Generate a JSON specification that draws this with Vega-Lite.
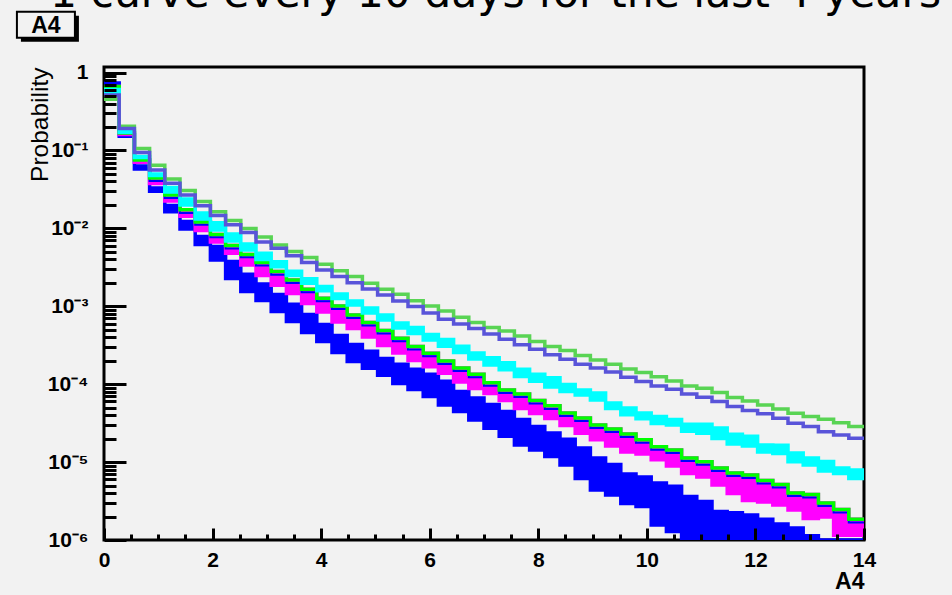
{
  "$schema": "https://vega.github.io/schema/vega-lite/v6.json",
  "width": 760,
  "height": 473,
  "autosize": {"type": "none"},
  "padding": {"left": 104, "top": 67, "right": 88, "bottom": 55},
  "background": "#f2f2f2",
  "config": {
    "view": {"stroke": "black", "strokeWidth": 3},
    "axis": {"grid": false, "ticks": true}
  },
  "resolve": {"axis": {"x": "independent", "y": "independent"}},
  "datasets": {
    "h": [
      {"x": 0, "lg": 0.455, "sb": 0.517, "cyHi": 0.609, "cyLo": 0.557, "g": 0.665, "bm": 0.665, "mgLo": 0.646, "blHi": 0.738, "blLo": 0.706},
      {"x": 0.28, "lg": 0.205, "sb": 0.191, "cyHi": 0.176, "cyLo": 0.171, "g": 0.168, "bm": 0.168, "mgLo": 0.161, "blHi": 0.159, "blLo": 0.152},
      {"x": 0.56, "lg": 0.106, "sb": 0.094, "cyHi": 0.084, "cyLo": 0.0815, "g": 0.0757, "bm": 0.0757, "mgLo": 0.0704, "blHi": 0.0634, "blLo": 0.058},
      {"x": 0.84, "lg": 0.0647, "sb": 0.0564, "cyHi": 0.0501, "cyLo": 0.0479, "g": 0.0445, "bm": 0.0407, "mgLo": 0.0378, "blHi": 0.0331, "blLo": 0.0299},
      {"x": 1.12, "lg": 0.0432, "sb": 0.038, "cyHi": 0.0336, "cyLo": 0.0294, "g": 0.0269, "bm": 0.0246, "mgLo": 0.0225, "blHi": 0.0197, "blLo": 0.0163},
      {"x": 1.4, "lg": 0.0306, "sb": 0.0269, "cyHi": 0.0239, "cyLo": 0.02, "g": 0.0173, "bm": 0.0158, "mgLo": 0.0143, "blHi": 0.0123, "blLo": 0.00985},
      {"x": 1.68, "lg": 0.0221, "sb": 0.0196, "cyHi": 0.0158, "cyLo": 0.0132, "g": 0.0121, "bm": 0.0111, "mgLo": 0.00943, "blHi": 0.0079, "blLo": 0.00623},
      {"x": 1.96, "lg": 0.0164, "sb": 0.0146, "cyHi": 0.0118, "cyLo": 0.00957, "g": 0.00838, "bm": 0.00767, "mgLo": 0.00671, "blHi": 0.00587, "blLo": 0.00394},
      {"x": 2.24, "lg": 0.0126, "sb": 0.0111, "cyHi": 0.0085, "cyLo": 0.00691, "g": 0.00605, "bm": 0.00554, "mgLo": 0.00478, "blHi": 0.00377, "blLo": 0.00228},
      {"x": 2.52, "lg": 0.00994, "sb": 0.00883, "cyHi": 0.00632, "cyLo": 0.0053, "g": 0.00464, "bm": 0.00425, "mgLo": 0.0034, "blHi": 0.00257, "blLo": 0.00155},
      {"x": 2.8, "lg": 0.00778, "sb": 0.00671, "cyHi": 0.00478, "cyLo": 0.004, "g": 0.00366, "bm": 0.00335, "mgLo": 0.00249, "blHi": 0.00194, "blLo": 0.00119},
      {"x": 3.08, "lg": 0.00614, "sb": 0.00557, "cyHi": 0.00372, "cyLo": 0.00321, "g": 0.00279, "bm": 0.00255, "mgLo": 0.00186, "blHi": 0.00142, "blLo": 0.00086},
      {"x": 3.36, "lg": 0.00504, "sb": 0.00444, "cyHi": 0.00281, "cyLo": 0.00249, "g": 0.00218, "bm": 0.00199, "mgLo": 0.00146, "blHi": 0.00106, "blLo": 0.00064},
      {"x": 3.64, "lg": 0.00422, "sb": 0.00364, "cyHi": 0.00225, "cyLo": 0.00197, "g": 0.00166, "bm": 0.00152, "mgLo": 0.00109, "blHi": 0.000787, "blLo": 0.000462},
      {"x": 3.92, "lg": 0.00347, "sb": 0.00293, "cyHi": 0.0018, "cyLo": 0.00158, "g": 0.00127, "bm": 0.00116, "mgLo": 0.000847, "blHi": 0.000586, "blLo": 0.000354},
      {"x": 4.2, "lg": 0.00285, "sb": 0.00241, "cyHi": 0.00144, "cyLo": 0.00126, "g": 0.00101, "bm": 0.000924, "mgLo": 0.000631, "blHi": 0.000423, "blLo": 0.000256},
      {"x": 4.48, "lg": 0.00241, "sb": 0.00201, "cyHi": 0.00117, "cyLo": 0.00104, "g": 0.000775, "bm": 0.000709, "mgLo": 0.00052, "blHi": 0.000324, "blLo": 0.000196},
      {"x": 4.76, "lg": 0.00198, "sb": 0.00167, "cyHi": 0.000954, "cyLo": 0.000823, "g": 0.000618, "bm": 0.000565, "mgLo": 0.000405, "blHi": 0.000264, "blLo": 0.00016},
      {"x": 5.04, "lg": 0.00166, "sb": 0.0014, "cyHi": 0.000775, "cyLo": 0.000669, "g": 0.000488, "bm": 0.000447, "mgLo": 0.000315, "blHi": 0.000214, "blLo": 0.00013},
      {"x": 5.32, "lg": 0.00143, "sb": 0.00117, "cyHi": 0.000612, "cyLo": 0.000528, "g": 0.000389, "bm": 0.000356, "mgLo": 0.000252, "blHi": 0.00018, "blLo": 0.000102},
      {"x": 5.6, "lg": 0.00118, "sb": 0.000991, "cyHi": 0.000536, "cyLo": 0.000449, "g": 0.000304, "bm": 0.000278, "mgLo": 0.000202, "blHi": 0.000155, "blLo": 0.0000858},
      {"x": 5.88, "lg": 0.00101, "sb": 0.000823, "cyHi": 0.000436, "cyLo": 0.00037, "g": 0.000249, "bm": 0.000228, "mgLo": 0.000167, "blHi": 0.000134, "blLo": 0.0000697},
      {"x": 6.16, "lg": 0.000873, "sb": 0.000683, "cyHi": 0.000376, "cyLo": 0.000306, "g": 0.000199, "bm": 0.000182, "mgLo": 0.000138, "blHi": 0.000109, "blLo": 0.0000542},
      {"x": 6.44, "lg": 0.000725, "sb": 0.000594, "cyHi": 0.000306, "cyLo": 0.000256, "g": 0.000162, "bm": 0.000148, "mgLo": 0.000107, "blHi": 0.0000808, "blLo": 0.0000447},
      {"x": 6.72, "lg": 0.000618, "sb": 0.000517, "cyHi": 0.000252, "cyLo": 0.000211, "g": 0.000134, "bm": 0.000123, "mgLo": 0.0000883, "blHi": 0.0000667, "blLo": 0.0000348},
      {"x": 7.0, "lg": 0.000533, "sb": 0.000442, "cyHi": 0.000218, "cyLo": 0.000177, "g": 0.000104, "bm": 0.0000952, "mgLo": 0.0000762, "blHi": 0.000055, "blLo": 0.0000271},
      {"x": 7.28, "lg": 0.000483, "sb": 0.000378, "cyHi": 0.000188, "cyLo": 0.000153, "g": 0.0000845, "bm": 0.0000773, "mgLo": 0.0000619, "blHi": 0.0000447, "blLo": 0.0000214},
      {"x": 7.56, "lg": 0.000417, "sb": 0.00032, "cyHi": 0.000155, "cyLo": 0.000126, "g": 0.0000751, "bm": 0.0000687, "mgLo": 0.0000489, "blHi": 0.0000353, "blLo": 0.0000166},
      {"x": 7.84, "lg": 0.000352, "sb": 0.000281, "cyHi": 0.000134, "cyLo": 0.000109, "g": 0.0000619, "bm": 0.0000566, "mgLo": 0.0000422, "blHi": 0.0000287, "blLo": 0.0000143},
      {"x": 8.12, "lg": 0.000304, "sb": 0.000238, "cyHi": 0.000121, "cyLo": 0.0000923, "g": 0.0000527, "bm": 0.0000482, "mgLo": 0.0000364, "blHi": 0.0000237, "blLo": 0.0000118},
      {"x": 8.4, "lg": 0.00027, "sb": 0.000209, "cyHi": 0.0000994, "cyLo": 0.0000808, "g": 0.0000428, "bm": 0.0000392, "mgLo": 0.0000296, "blHi": 0.0000196, "blLo": 0.00000921},
      {"x": 8.68, "lg": 0.000234, "sb": 0.000181, "cyHi": 0.0000845, "cyLo": 0.0000729, "g": 0.0000369, "bm": 0.0000338, "mgLo": 0.0000234, "blHi": 0.0000152, "blLo": 0.00000618},
      {"x": 8.96, "lg": 0.000205, "sb": 0.000161, "cyHi": 0.0000773, "cyLo": 0.0000629, "g": 0.00003, "bm": 0.0000275, "mgLo": 0.0000193, "blHi": 0.0000113, "blLo": 0.0000044},
      {"x": 9.24, "lg": 0.000181, "sb": 0.000143, "cyHi": 0.0000575, "cyLo": 0.0000489, "g": 0.0000267, "bm": 0.0000244, "mgLo": 0.0000161, "blHi": 0.00000934, "blLo": 0.00000379},
      {"x": 9.52, "lg": 0.000157, "sb": 0.000123, "cyHi": 0.0000496, "cyLo": 0.0000404, "g": 0.000023, "bm": 0.000021, "mgLo": 0.0000135, "blHi": 0.00000706, "blLo": 0.00000295},
      {"x": 9.8, "lg": 0.000141, "sb": 0.000108, "cyHi": 0.0000428, "cyLo": 0.0000359, "g": 0.0000193, "bm": 0.0000177, "mgLo": 0.0000127, "blHi": 0.00000646, "blLo": 0.0000027},
      {"x": 10.08, "lg": 0.000125, "sb": 0.0000951, "cyHi": 0.0000386, "cyLo": 0.0000314, "g": 0.0000157, "bm": 0.0000144, "mgLo": 0.0000107, "blHi": 0.00000541, "blLo": 0.00000156},
      {"x": 10.36, "lg": 0.00011, "sb": 0.0000863, "cyHi": 0.0000353, "cyLo": 0.00003, "g": 0.0000143, "bm": 0.0000131, "mgLo": 0.00000894, "blHi": 0.00000488, "blLo": 0.00000129},
      {"x": 10.64, "lg": 0.0000951, "sb": 0.0000751, "cyHi": 0.0000305, "cyLo": 0.0000248, "g": 0.0000113, "bm": 0.0000103, "mgLo": 0.00000716, "blHi": 0.00000363, "blLo": 0.000001},
      {"x": 10.92, "lg": 0.0000889, "sb": 0.0000681, "cyHi": 0.0000305, "cyLo": 0.0000234, "g": 0.0000101, "bm": 0.00000924, "mgLo": 0.00000646, "blHi": 0.00000313, "blLo": 0.000001},
      {"x": 11.2, "lg": 0.000078, "sb": 0.0000598, "cyHi": 0.0000275, "cyLo": 0.0000201, "g": 0.00000842, "bm": 0.0000077, "mgLo": 0.0000051, "blHi": 0.00000233, "blLo": 0.000001},
      {"x": 11.48, "lg": 0.0000673, "sb": 0.0000516, "cyHi": 0.0000227, "cyLo": 0.0000171, "g": 0.00000727, "bm": 0.00000665, "mgLo": 0.00000396, "blHi": 0.00000223, "blLo": 0.000001},
      {"x": 11.76, "lg": 0.000061, "sb": 0.0000458, "cyHi": 0.0000214, "cyLo": 0.0000161, "g": 0.00000685, "bm": 0.00000627, "mgLo": 0.00000322, "blHi": 0.0000021, "blLo": 0.000001},
      {"x": 12.04, "lg": 0.0000542, "sb": 0.0000416, "cyHi": 0.0000166, "cyLo": 0.0000135, "g": 0.00000582, "bm": 0.00000533, "mgLo": 0.00000308, "blHi": 0.00000184, "blLo": 0.000001},
      {"x": 12.32, "lg": 0.0000482, "sb": 0.0000366, "cyHi": 0.0000164, "cyLo": 0.0000129, "g": 0.00000517, "bm": 0.00000473, "mgLo": 0.00000282, "blHi": 0.00000161, "blLo": 0.000001},
      {"x": 12.6, "lg": 0.0000424, "sb": 0.0000316, "cyHi": 0.0000131, "cyLo": 0.0000101, "g": 0.00000402, "bm": 0.00000368, "mgLo": 0.00000243, "blHi": 0.00000143, "blLo": 0.000001},
      {"x": 12.88, "lg": 0.0000384, "sb": 0.0000286, "cyHi": 0.0000113, "cyLo": 0.00000921, "g": 0.00000385, "bm": 0.00000352, "mgLo": 0.00000189, "blHi": 0.00000113, "blLo": 0.000001},
      {"x": 13.16, "lg": 0.0000355, "sb": 0.0000246, "cyHi": 0.0000102, "cyLo": 0.00000771, "g": 0.00000299, "bm": 0.00000274, "mgLo": 0.00000198, "blHi": 0.000001, "blLo": 0.000001},
      {"x": 13.44, "lg": 0.0000321, "sb": 0.0000223, "cyHi": 0.00000842, "cyLo": 0.00000716, "g": 0.00000247, "bm": 0.00000226, "mgLo": 0.00000115, "blHi": 0.000001, "blLo": 0.000001},
      {"x": 13.72, "lg": 0.0000286, "sb": 0.0000203, "cyHi": 0.00000794, "cyLo": 0.00000618, "g": 0.00000184, "bm": 0.00000168, "mgLo": 0.00000115, "blHi": 0.000001, "blLo": 0.000001},
      {"x": 14, "lg": 0.0000286, "sb": 0.0000203, "cyHi": 0.00000794, "cyLo": 0.00000618, "g": 0.00000184, "bm": 0.00000168, "mgLo": 0.00000115, "blHi": 0.000001, "blLo": 0.000001}
    ]
  },
  "data": {"name": "h"},
  "layer": [
    {
      "mark": {"type": "area", "interpolate": "step-after", "color": "#0000ff", "stroke": "#0000ff", "strokeWidth": 3.5, "strokeJoin": "miter", "clip": true},
      "encoding": {
        "x": {"field": "x", "type": "quantitative", "scale": {"domain": [0, 14], "nice": false, "zero": false},
          "axis": {
            "orient": "bottom", "offset": -12, "domain": false, "ticks": true, "zindex": 2,
            "title": "A4", "titleFont": "Liberation Sans", "titleFontSize": 23, "titleFontWeight": "bold", "titleColor": "black",
            "titleAnchor": "end", "titlePadding": 0,
            "values": [0, 2, 4, 6, 8, 10, 12, 14],
            "format": "d",
            "labelFont": "Liberation Sans", "labelFontSize": 21, "labelFontWeight": "bold", "labelColor": "black",
            "labelPadding": 9, "labelFlush": false, "labelOverlap": false,
            "tickSize": 12, "tickColor": "black", "tickWidth": 3, "tickOpacity": 1
          }
        },
        "y": {"field": "blHi", "type": "quantitative", "scale": {"type": "log", "domain": [0.000001, 1.18], "nice": false},
          "axis": {
            "orient": "left", "offset": -22, "domain": false, "ticks": true, "zindex": 2,
            "title": "Probability", "titleFont": "Liberation Sans", "titleFontSize": 24.5, "titleFontWeight": "normal", "titleColor": "black",
            "titleAnchor": "end", "titlePadding": -5,
            "values": [0.000001, 0.00001, 0.0001, 0.001, 0.01, 0.1, 1],
            "labelExpr": "round(log(datum.value)/LN10) == 0 ? '1' : '10' + ['', '⁻¹', '⁻²', '⁻³', '⁻⁴', '⁻⁵', '⁻⁶'][-round(log(datum.value)/LN10)]",
            "labelFont": "Liberation Sans", "labelFontSize": 21, "labelFontWeight": "bold", "labelColor": "black",
            "labelPadding": 16, "labelOverlap": false, "labelFlush": false,
            "tickSize": 22, "tickColor": "black", "tickWidth": 3, "tickOpacity": 1
          }
        },
        "y2": {"field": "blLo"}
      }
    },
    {
      "mark": {"type": "area", "interpolate": "step-after", "color": "#ff00ff", "stroke": "#ff00ff", "strokeWidth": 3.5, "strokeJoin": "miter", "clip": true},
      "encoding": {
        "x": {"field": "x", "type": "quantitative",
          "axis": {
            "orient": "bottom", "offset": -6, "domain": false, "title": null, "labels": false, "ticks": true, "zindex": 2,
            "values": [0.5, 1, 1.5, 2.5, 3, 3.5, 4.5, 5, 5.5, 6.5, 7, 7.5, 8.5, 9, 9.5, 10.5, 11, 11.5, 12.5, 13, 13.5],
            "tickSize": 6, "tickColor": "black", "tickWidth": 3, "tickOpacity": 1
          }
        },
        "y": {"field": "g", "type": "quantitative",
          "axis": {
            "orient": "left", "offset": -12, "domain": false, "title": null, "labels": false, "ticks": true, "zindex": 2,
            "values": [0.000002, 0.000003, 0.000004, 0.000005, 0.000006, 0.000007, 0.000008, 0.000009,
                       0.00002, 0.00003, 0.00004, 0.00005, 0.00006, 0.00007, 0.00008, 0.00009,
                       0.0002, 0.0003, 0.0004, 0.0005, 0.0006, 0.0007, 0.0008, 0.0009,
                       0.002, 0.003, 0.004, 0.005, 0.006, 0.007, 0.008, 0.009,
                       0.02, 0.03, 0.04, 0.05, 0.06, 0.07, 0.08, 0.09,
                       0.2, 0.3, 0.4, 0.5, 0.6, 0.7, 0.8, 0.9],
            "tickSize": 12, "tickColor": "black", "tickWidth": 3, "tickOpacity": 1
          }
        },
        "y2": {"field": "mgLo"}
      }
    },
    {
      "mark": {"type": "line", "interpolate": "step-after", "color": "#0000ff", "strokeWidth": 2, "clip": true},
      "encoding": {
        "x": {"field": "x", "type": "quantitative", "axis": null},
        "y": {"field": "bm", "type": "quantitative", "axis": null}
      }
    },
    {
      "mark": {"type": "line", "interpolate": "step-after", "color": "#00ff00", "strokeWidth": 3.5, "clip": true},
      "encoding": {
        "x": {"field": "x", "type": "quantitative", "axis": null},
        "y": {"field": "g", "type": "quantitative", "axis": null}
      }
    },
    {
      "mark": {"type": "area", "interpolate": "step-after", "color": "#00ffff", "stroke": "#00ffff", "strokeWidth": 3.5, "strokeJoin": "miter", "clip": true},
      "encoding": {
        "x": {"field": "x", "type": "quantitative", "axis": null},
        "y": {"field": "cyHi", "type": "quantitative", "axis": null},
        "y2": {"field": "cyLo"}
      }
    },
    {
      "mark": {"type": "line", "interpolate": "step-after", "color": "#59d454", "strokeWidth": 3.5, "clip": true},
      "encoding": {
        "x": {"field": "x", "type": "quantitative", "axis": null},
        "y": {"field": "lg", "type": "quantitative", "axis": null}
      }
    },
    {
      "mark": {"type": "line", "interpolate": "step-after", "color": "#5954d9", "strokeWidth": 3.5, "clip": true},
      "encoding": {
        "x": {"field": "x", "type": "quantitative", "axis": null},
        "y": {"field": "sb", "type": "quantitative", "axis": null}
      }
    },
    {
      "data": {"values": [{"label": "A4"}]},
      "mark": {"type": "point", "shape": "M-1,-0.448H1V0.448H-1Z", "size": 3364, "filled": true, "fill": "black", "opacity": 1, "strokeWidth": 0, "xOffset": 4, "yOffset": 4},
      "encoding": {
        "x": {"datum": -1.07, "type": "quantitative", "axis": null},
        "y": {"datum": 4.1, "type": "quantitative", "axis": null}
      }
    },
    {
      "data": {"values": [{"label": "A4"}]},
      "mark": {"type": "point", "shape": "M-1,-0.448H1V0.448H-1Z", "size": 3364, "filled": true, "fill": "#f2f2f2", "stroke": "black", "strokeWidth": 2, "opacity": 1},
      "encoding": {
        "x": {"datum": -1.07, "type": "quantitative", "axis": null},
        "y": {"datum": 4.1, "type": "quantitative", "axis": null}
      }
    },
    {
      "data": {"values": [{"label": "A4"}]},
      "mark": {"type": "text", "font": "Liberation Sans", "fontSize": 23, "fontWeight": "bold", "color": "black", "align": "center", "baseline": "middle", "dy": 1},
      "encoding": {
        "x": {"datum": -1.07, "type": "quantitative", "axis": null},
        "y": {"datum": 4.1, "type": "quantitative", "axis": null},
        "text": {"field": "label"}
      }
    },
    {
      "data": {"values": [{"label": "1 curve every 10 days for the last 4 years"}]},
      "mark": {"type": "text", "font": "DejaVu Sans", "fontSize": 42.5, "color": "black", "align": "left", "baseline": "alphabetic"},
      "encoding": {
        "x": {"datum": -0.9945, "type": "quantitative", "axis": null},
        "y": {"datum": 6.95, "type": "quantitative", "axis": null},
        "text": {"field": "label"}
      }
    }
  ]
}
